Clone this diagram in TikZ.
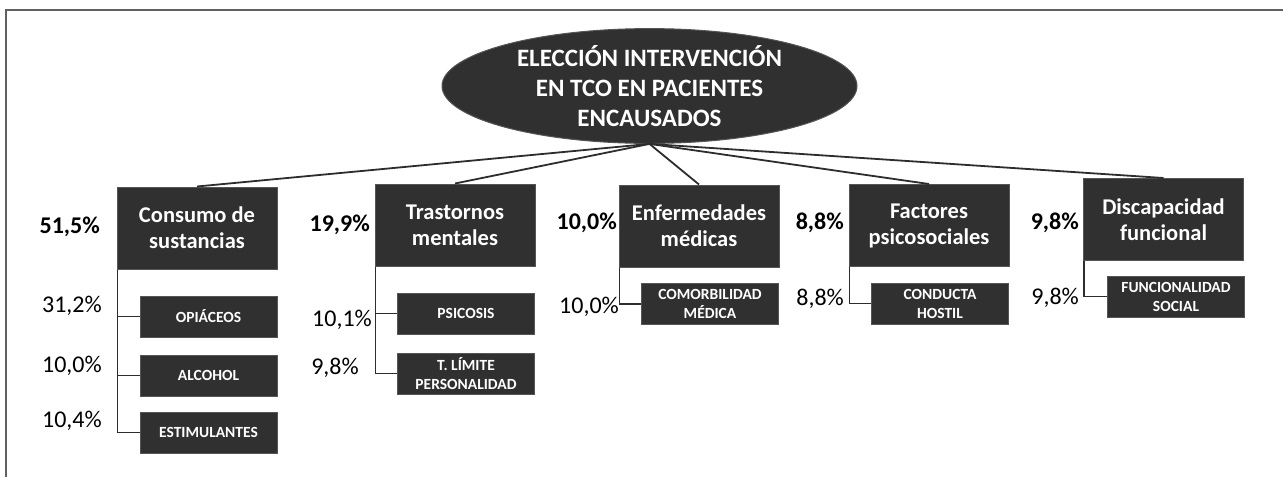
\documentclass[tikz,border=0pt]{standalone}
\usepackage{fontspec}
\setmainfont{Carlito}
\usepackage{tikz}
\usetikzlibrary{positioning,shapes}
\definecolor{boxgray}{RGB}{48,48,48}
\definecolor{edgegray}{RGB}{85,85,85}
\definecolor{linegray}{RGB}{45,45,45}
\definecolor{framegray}{RGB}{96,96,96}

\begin{document}
\begin{tikzpicture}[x=1pt, y=-1pt,
  catbox/.style={draw=edgegray, fill=boxgray, text=white, line width=1pt, minimum width=160, minimum height=82, align=center, inner sep=0pt, font=\fontsize{22.5}{26}\selectfont\bfseries},
  itembox/.style={draw=edgegray, fill=boxgray, text=white, line width=1pt, minimum width=137, minimum height=41, align=center, inner sep=0pt, font=\fontsize{15.5}{19}\selectfont\bfseries},
  bpct/.style={anchor=east, inner sep=0pt, font=\fontsize{24}{28}\selectfont\bfseries},
  pct/.style={anchor=east, inner sep=0pt, font=\fontsize{24}{28}\selectfont},
  lnk/.style={draw=linegray, line width=1.8pt}]
\useasboundingbox (0,0) rectangle (1283,477);
\draw[framegray, line width=2pt] (6,477) -- (6,10) -- (1283,10);

\node[ellipse, draw=edgegray, fill=boxgray, text=white, line width=1pt, minimum width=415, minimum height=98, inner sep=0pt, align=center, font=\fontsize{25}{30}\selectfont\bfseries] (root) at (649.5,86) {ELECCIÓN INTERVENCIÓN\\EN TCO EN PACIENTES\\ENCAUSADOS};

\node[catbox] (cons) at (197,228) {Consumo de\\sustancias};
\node[catbox] (tras) at (455,225) {Trastornos\\mentales};
\node[catbox] (enf) at (699,226) {Enfermedades\\médicas};
\node[catbox] (fac) at (929,225.5) {Factores\\psicosociales};
\node[catbox] (dis) at (1163.5,219.5) {Discapacidad\\funcional};

\node[itembox] (opi) at (208.5,316.5) {OPIÁCEOS};
\node[itembox] (alc) at (208.5,375.5) {ALCOHOL};
\node[itembox] (est) at (208.5,432.5) {ESTIMULANTES};
\node[itembox] (psi) at (466,313.5) {PSICOSIS};
\node[itembox] (tlim) at (466,373.5) {T. LÍMITE\\PERSONALIDAD};
\node[itembox] (com) at (710,304) {COMORBILIDAD\\MÉDICA};
\node[itembox] (con) at (940,303.5) {CONDUCTA\\HOSTIL};
\node[itembox] (fun) at (1176,296.5) {FUNCIONALIDAD\\SOCIAL};

% porcentajes
\node[bpct] (pcons) at (100,227) {51,5\%};
\node[bpct] (ptras) at (370,225) {19,9\%};
\node[bpct] (penf) at (617,223) {10,0\%};
\node[bpct] (pfac) at (844,223) {8,8\%};
\node[bpct] (pdis) at (1079,223) {9,8\%};
\node[pct] (popi) at (102,306) {31,2\%};
\node[pct] (palc) at (102,366) {10,0\%};
\node[pct] (pest) at (102,421) {10,4\%};
\node[pct] (ppsi) at (372,320) {10,1\%};
\node[pct] (ptlim) at (359,368) {9,8\%};
\node[pct] (pcom) at (619,307) {10,0\%};
\node[pct] (pcon) at (844,299) {8,8\%};
\node[pct] (pfun) at (1079,298) {9,8\%};

\foreach \c in {cons,tras,enf,fac,dis}
  \draw[lnk] (root.south) -- (\c.north);

\foreach \c/\s in {cons/opi,cons/alc,cons/est,tras/psi,tras/tlim,enf/com,fac/con,dis/fun}
  \draw[lnk, line width=1.5pt] ([xshift=1pt]\c.south west) |- (\s.west);
\end{tikzpicture}
\end{document}
